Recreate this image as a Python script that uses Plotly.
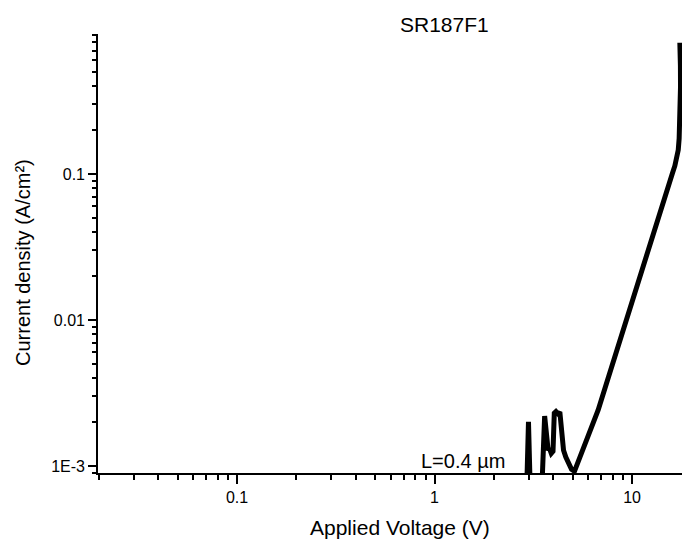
import plotly.graph_objects as go

# Current density vs. applied voltage, sample SR187F1 (L = 0.4 µm)
voltage = [2.70, 2.92, 2.99, 3.06, 3.30, 3.48, 3.61, 3.70, 3.76, 3.82, 3.90,
           3.98, 4.04, 4.12, 4.22, 4.31, 4.39, 4.50, 4.62, 4.71, 4.83, 4.94,
           5.11, 5.60, 6.20, 6.74, 7.60, 8.68, 9.70, 10.75, 12.10, 13.57,
           14.60, 15.54, 16.00, 16.48, 16.85, 17.14, 17.32, 17.46, 17.56,
           17.60, 17.58, 17.46]
current_density = [5.0e-4, 6.0e-4, 2.01e-3, 6.0e-4, 5.0e-4, 6.0e-4, 2.20e-3,
                   1.60e-3, 1.28e-3, 1.32e-3, 1.22e-3, 1.26e-3, 2.30e-3,
                   2.36e-3, 2.28e-3, 2.34e-3, 1.60e-3, 1.28e-3, 1.15e-3,
                   1.08e-3, 1.00e-3, 9.5e-4, 9.2e-4, 1.27e-3, 1.80e-3,
                   2.42e-3, 4.07e-3, 7.30e-3, 1.17e-2, 1.85e-2, 3.05e-2,
                   5.00e-2, 6.88e-2, 9.10e-2, 0.101, 0.114, 0.128, 0.146,
                   0.175, 0.234, 0.320, 0.396, 0.550, 0.793]

x_tick_vals = [0.1, 1, 10]
x_tick_text = ["0.1", "1", "10"]
y_tick_vals = [1e-3, 1e-2, 1e-1]
y_tick_text = ["1E-3", "0.01", "0.1"]

x_minor = [m * 10 ** e for e in (-2, -1, 0, 1) for m in range(2, 10)]
y_minor = [m * 10 ** e for e in (-4, -3, -2, -1) for m in range(2, 10)]

FONT = "Liberation Sans, Arial, sans-serif"
W, H = 682, 542
ML, MR, MT, MB = 98, 0, 34, 69
PW, PH = W - ML - MR, H - MT - MB


def px_to_paper(px, py):
    return (px - ML) / PW, (H - MB - py) / PH


fig = go.Figure()
fig.add_trace(go.Scatter(
    x=voltage, y=current_density, mode="lines",
    line=dict(color="black", width=5),
    hoverinfo="skip", showlegend=False,
))

axis_common = dict(
    type="log", showgrid=False, zeroline=False,
    showline=True, linecolor="black", linewidth=1.6,
    ticks="outside", tickcolor="black", tickwidth=1.5,
    tickmode="array",
    tickfont=dict(family=FONT, size=16, color="black"),
)

fig.update_xaxes(
    **axis_common,
    range=[-1.704, 1.253],
    tickvals=x_tick_vals, ticktext=x_tick_text, ticklen=9,
    minor=dict(tickmode="array", tickvals=x_minor, ticks="outside",
               ticklen=5, tickwidth=1.5, tickcolor="black"),
)
fig.update_yaxes(
    **axis_common,
    range=[-3.048, -0.041],
    tickvals=y_tick_vals, ticktext=y_tick_text, ticklen=8,
    minor=dict(tickmode="array", tickvals=y_minor, ticks="outside",
               ticklen=4.5, tickwidth=1.5, tickcolor="black"),
)

annotations = []
tx, ty = px_to_paper(444, 24)
annotations.append(dict(text="SR187F1", x=tx, y=ty, xref="paper", yref="paper",
                        xanchor="center", yanchor="middle", showarrow=False,
                        font=dict(family=FONT, size=21, color="black")))
lx, ly = px_to_paper(463, 461)
annotations.append(dict(text="L=0.4 µm", x=lx, y=ly, xref="paper", yref="paper",
                        xanchor="center", yanchor="middle", showarrow=False,
                        font=dict(family=FONT, size=20, color="black")))
ax_x, ax_y = px_to_paper(400, 527)
annotations.append(dict(text="Applied Voltage (V)", x=ax_x, y=ax_y,
                        xref="paper", yref="paper",
                        xanchor="center", yanchor="middle", showarrow=False,
                        font=dict(family=FONT, size=21, color="black")))
ay_x, ay_y = px_to_paper(23, 262)
annotations.append(dict(text="Current density (A/cm²)", x=ay_x, y=ay_y,
                        xref="paper", yref="paper", textangle=-90,
                        xanchor="center", yanchor="middle", showarrow=False,
                        font=dict(family=FONT, size=20, color="black")))

fig.update_layout(
    width=W, height=H,
    margin=dict(l=ML, r=MR, t=MT, b=MB, pad=0),
    paper_bgcolor="white", plot_bgcolor="white",
    annotations=annotations,
)

fig.write_html("out.html", config={"displayModeBar": False})
